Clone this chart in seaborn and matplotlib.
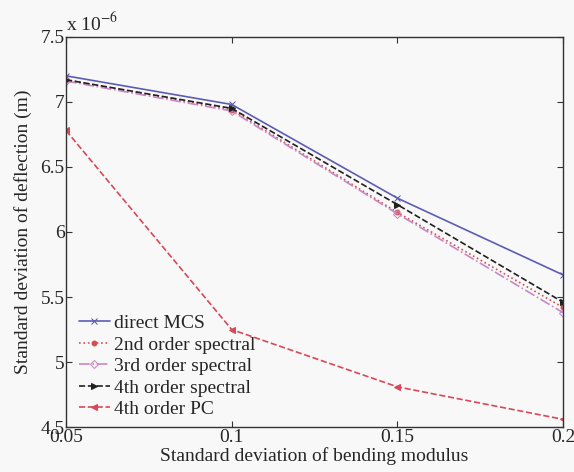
import matplotlib
matplotlib.use("Agg")
import matplotlib.pyplot as plt
import seaborn as sns
import pandas as pd

x_vals = [0.05, 0.1, 0.15, 0.2]
direct_mcs = [7.20, 6.98, 6.26, 5.67]
spectral_2nd = [7.17, 6.94, 6.15, 5.42]
spectral_3rd = [7.16, 6.93, 6.14, 5.38]
spectral_4th = [7.17, 6.95, 6.21, 5.46]
pc_4th = [6.78, 5.25, 4.81, 4.56]
series_names = ["direct MCS", "2nd order spectral", "3rd order spectral",
                "4th order spectral", "4th order PC"]
xticks = [0.05, 0.1, 0.15, 0.2]
xtick_labels = ["0.05", "0.1", "0.15", "0.2"]
yticks = [4.5, 5, 5.5, 6, 6.5, 7, 7.5]
ytick_labels = ["4.5", "5", "5.5", "6", "6.5", "7", "7.5"]

sns.set_style("ticks")
plt.rcParams['font.family'] = ['Liberation Serif', 'DejaVu Serif']
plt.rcParams['mathtext.fontset'] = 'stix'

fig = plt.figure(figsize=(5.74, 4.72), dpi=100, facecolor='#f8f8f8')
ax = fig.add_axes([0.115, 0.095, 0.866, 0.827])
ax.set_facecolor('#f8f8f8')

styles = [
    dict(color='#5c5cb4', linestyle='-', marker='x', ms=4, mfc='none'),
    dict(color='#d05050', linestyle=':', marker='o', ms=3.5, mfc='#d05050'),
    dict(color='#c888c8', linestyle='-.', marker='D', ms=4, mfc='none'),
    dict(color='#202020', linestyle='--', marker='>', ms=5, mfc='#202020'),
    dict(color='#d84858', linestyle='--', marker='<', ms=5, mfc='#d84858'),
]
all_series = [direct_mcs, spectral_2nd, spectral_3rd, spectral_4th, pc_4th]
for name, vals, st in zip(series_names, all_series, styles):
    df = pd.DataFrame({"x": x_vals, "y": vals})
    sns.lineplot(data=df, x="x", y="y", ax=ax, label=name, color=st['color'],
                 linestyle=st['linestyle'], marker=st['marker'], markersize=st['ms'],
                 markerfacecolor=st['mfc'], markeredgecolor=st['color'],
                 linewidth=1.2)

ax.set_xlim(0.05, 0.2)
ax.set_ylim(4.5, 7.5)
ax.set_xticks(xticks)
ax.set_xticklabels(xtick_labels)
ax.set_yticks(yticks)
ax.set_yticklabels(ytick_labels)
ax.tick_params(direction='in', top=True, right=True, labelsize=14, length=4,
               color='#333333', pad=1)
for s in ax.spines.values():
    s.set_color('#333333')
    s.set_linewidth(1.0)
ax.set_xlabel("Standard deviation of bending modulus", fontsize=14, labelpad=1)
ax.set_ylabel("Standard deviation of deflection (m)", fontsize=14, labelpad=6)
ax.text(0.0, 1.005, r"x 10$^{-6}$", transform=ax.transAxes, fontsize=14,
        ha='left', va='bottom')
leg = ax.legend(loc='lower left', bbox_to_anchor=(0.026, 0.023), frameon=False,
                fontsize=14, handlelength=1.6, handletextpad=0.2,
                labelspacing=0.2, borderaxespad=0.0, borderpad=0.0)
fig.savefig("out.png", dpi=100, facecolor=fig.get_facecolor())
